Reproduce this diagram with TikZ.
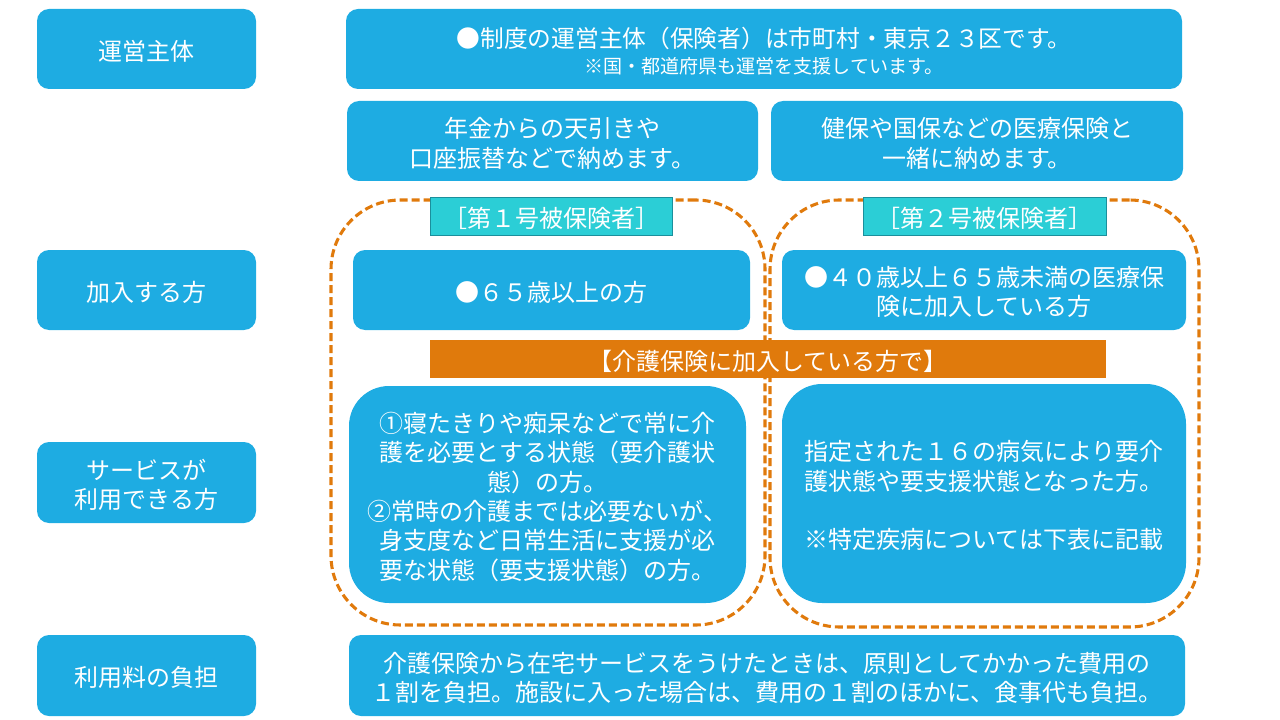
\documentclass[tikz,border=0pt]{standalone}
\usepackage{fontspec}
\setmainfont{Noto Sans CJK JP}
\usetikzlibrary{fit}
\definecolor{bl}{HTML}{1EACE2}
\definecolor{orng}{HTML}{E07A0C}
\definecolor{cyanlab}{HTML}{2BCED6}
\definecolor{cyanedge}{HTML}{1B8F9C}
\begin{document}
\begin{tikzpicture}[x=0.75pt,y=-0.75pt,
  bbox/.style={fill=bl, draw=none, rounded corners=9pt, inner sep=0pt},
  bigbox/.style={bbox, rounded corners=30pt},
  dashbox/.style={draw=orng, line width=2.3pt, dash pattern=on 6pt off 3pt, rounded corners=52pt, inner sep=0pt},
  labbox/.style={fill=cyanlab, draw=cyanedge, line width=0.6pt, inner sep=0pt},
  barbox/.style={fill=orng, draw=none, inner sep=0pt},
  txt/.style={text=white, font=\fontsize{18}{22}\selectfont, align=center, inner sep=0pt, yshift=-1.7pt}
]
\useasboundingbox (0,0) rectangle (1280,720);

% left column
\node[bbox, fit={(37,9)(256,89)}] (l1) {};
\node[txt] (l1t) at (l1.center) {運営主体};
\node[bbox, fit={(37,250)(256,330)}] (l2) {};
\node[txt] (l2t) at (l2.center) {加入する方};
\node[bbox, fit={(37,442)(256,523)}] (l3) {};
\node[txt] (l3t) at (l3.center) {サービスが\\利用できる方};
\node[bbox, fit={(37,635)(256,716)}] (l4) {};
\node[txt] (l4t) at (l4.center) {利用料の負担};

% top
\node[bbox, fit={(346,9)(1182,89)}] (top) {};
\node[txt] (topt) at (top.center) {{\fontsize{17.8}{22}\selectfont ●制度の運営主体（保険者）は市町村・東京２３区です。}\\[-3pt]{\fontsize{14.3}{18}\selectfont ※国・都道府県も運営を支援しています。}};
\node[bbox, fit={(347,101)(758,181)}] (pay1) {};
\node[txt] (pay1t) at (pay1.center) {年金からの天引きや\\口座振替などで納めます。};
\node[bbox, fit={(771,101)(1183,181)}] (pay2) {};
\node[txt] (pay2t) at (pay2.center) {健保や国保などの医療保険と\\一緒に納めます。};

% dashed groups
\node[dashbox, fit={(331,200)(765,625)}] (g1) {};
\node[dashbox, fit={(770,200)(1199,627)}] (g2) {};

\node[labbox, fit={(430,197)(672,235)}] (lab1) {};
\node[txt] (lab1t) at (lab1.center) {［第１号被保険者］};
\node[labbox, fit={(863,197)(1106,235)}] (lab2) {};
\node[txt] (lab2t) at (lab2.center) {［第２号被保険者］};

\node[bbox, fit={(353,250)(750,330)}] (a1) {};
\node[txt] (a1t) at (a1.center) {●６５歳以上の方};
\node[bbox, fit={(782,250)(1186,330)}] (a2) {};
\node[txt] (a2t) at (a2.center) {●４０歳以上６５歳未満の医療保\\険に加入している方};

\node[barbox, fit={(430,340)(1106,378)}] (bar) {};
\node[txt] (bart) at (bar.center) {【介護保険に加入している方で】};

\node[bigbox, fit={(349,386)(746,603)}] (s1) {};
\node[txt] (s1t) at (s1.center) {①寝たきりや痴呆などで常に介\\護を必要とする状態（要介護状\\態）の方。\\②常時の介護までは必要ないが、\\身支度など日常生活に支援が必\\要な状態（要支援状態）の方。};
\node[bigbox, fit={(782,384)(1186,603)}] (s2) {};
\node[txt] (s2t) at (s2.center) {指定された１６の病気により要介\\護状態や要支援状態となった方。\\[22pt]※特定疾病については下表に記載};

\node[bbox, fit={(349,635)(1185,716)}] (fee) {};
\node[txt] (feet) at (fee.center) {介護保険から在宅サービスをうけたときは、原則としてかかった費用の\\１割を負担。施設に入った場合は、費用の１割のほかに、食事代も負担。};
\end{tikzpicture}
\end{document}
